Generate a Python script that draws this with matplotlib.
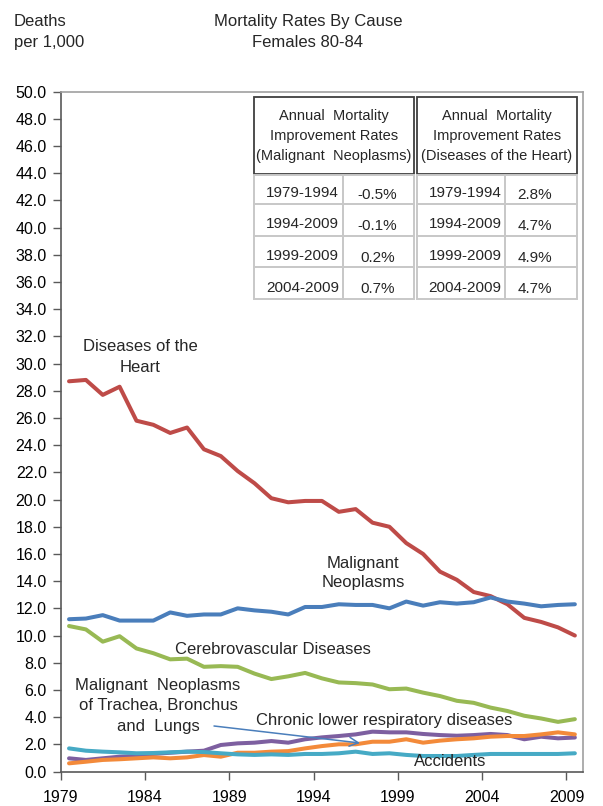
import matplotlib
matplotlib.use("Agg")
import matplotlib.pyplot as plt
from matplotlib.patches import Rectangle

# ---- data -------------------------------------------------------------
years = list(range(1979, 2010))

heart = [28.7, 28.8, 27.7, 28.3, 25.8, 25.5, 24.9, 25.3, 23.7, 23.2,
         22.1, 21.2, 20.1, 19.8, 19.9, 19.9, 19.1, 19.3, 18.3, 18.0,
         16.8, 16.0, 14.7, 14.1, 13.2, 12.9, 12.3, 11.3, 11.0, 10.6, 10.0]
malignant = [11.2, 11.25, 11.5, 11.1, 11.1, 11.1, 11.7, 11.45, 11.55, 11.55,
             12.0, 11.85, 11.75, 11.55, 12.1, 12.1, 12.3, 12.25, 12.25, 12.0,
             12.5, 12.2, 12.45, 12.35, 12.45, 12.8, 12.5, 12.35, 12.15, 12.25, 12.3]
cerebro = [10.7, 10.45, 9.55, 9.95, 9.05, 8.7, 8.25, 8.3, 7.7, 7.75,
           7.7, 7.2, 6.8, 7.0, 7.25, 6.85, 6.55, 6.5, 6.4, 6.05,
           6.1, 5.8, 5.55, 5.2, 5.05, 4.7, 4.45, 4.1, 3.9, 3.65, 3.85]
clrd = [0.97, 0.85, 0.97, 1.09, 1.14, 1.29, 1.38, 1.46, 1.53, 1.95,
        2.07, 2.12, 2.24, 2.12, 2.37, 2.51, 2.61, 2.73, 2.93, 2.88,
        2.88, 2.76, 2.68, 2.63, 2.68, 2.76, 2.68, 2.37, 2.56, 2.44, 2.5]
lung = [0.6, 0.72, 0.85, 0.9, 0.97, 1.04, 0.97, 1.04, 1.21, 1.09,
        1.38, 1.38, 1.46, 1.5, 1.7, 1.87, 2.0, 2.0, 2.19, 2.19,
        2.37, 2.12, 2.27, 2.37, 2.44, 2.56, 2.61, 2.61, 2.73, 2.88, 2.73]
accidents = [1.7, 1.53, 1.46, 1.41, 1.34, 1.36, 1.41, 1.46, 1.43, 1.34,
             1.26, 1.22, 1.26, 1.22, 1.29, 1.29, 1.34, 1.46, 1.29, 1.34,
             1.22, 1.14, 1.14, 1.14, 1.22, 1.29, 1.29, 1.29, 1.29, 1.29, 1.34]

series_names = ["Diseases of the Heart", "Malignant Neoplasms",
                "Cerebrovascular Diseases", "Chronic lower respiratory diseases",
                "Malignant Neoplasms of Trachea, Bronchus and Lungs", "Accidents"]
series_colors = ["#BE4B48", "#4A7EBB", "#98B954", "#7D5FA0", "#F38A3A", "#46AAC5"]

year_ticks = [1979, 1984, 1989, 1994, 1999, 2004, 2009]
y_ticks = [v * 2.0 for v in range(26)]

table_periods = ["1979-1994", "1994-2009", "1999-2009", "2004-2009"]
malig_rates = ["-0.5%", "-0.1%", "0.2%", "0.7%"]
heart_rates = ["2.8%", "4.7%", "4.9%", "4.7%"]
malig_header = "Annual  Mortality\nImprovement Rates\n(Malignant  Neoplasms)"
heart_header = "Annual  Mortality\nImprovement Rates\n(Diseases of the Heart)"

# ---- fonts ------------------------------------------------------------
plt.rcParams["font.family"] = ["Liberation Sans", "DejaVu Sans"]
TXT = "#262626"

W, H = 603, 806
fig = plt.figure(figsize=(W / 100, H / 100), dpi=100)


def fx(px):
    return px / W


def fy(py):
    return 1 - py / H


ax = fig.add_axes([fx(60.6), fy(771.5), fx(583.3) - fx(60.6), fy(91.7) - fy(771.5)])

all_series = [heart, malignant, cerebro, clrd, lung, accidents]
xpos = [y + 0.5 for y in years]
for vals, col in zip(all_series, series_colors):
    ax.plot(xpos, vals, color=col, lw=2.9, solid_joinstyle="round", solid_capstyle="round")

ax.set_xlim(1979, 2010)
ax.set_ylim(0, 50)
ax.set_xticks(year_ticks)
ax.set_xticklabels([str(y) for y in year_ticks])
ax.set_yticks(y_ticks)
ax.set_yticklabels([f"{v:.1f}" for v in y_ticks])
ax.tick_params(axis="both", colors="#595959", labelcolor="black",
               length=6, width=1.0, direction="out")
ax.tick_params(axis="x", labelsize=11.5, pad=7)
ax.tick_params(axis="y", labelsize=11.5, pad=4)
for side in ("left", "bottom"):
    ax.spines[side].set_color("#595959")
    ax.spines[side].set_linewidth(1.2)
for side in ("top", "right"):
    ax.spines[side].set_color("#A0A0A0")
    ax.spines[side].set_linewidth(1.2)

# series labels
lab = dict(fontsize=12, color=TXT, ha="center", va="center")
fig.text(fx(140), fy(357), "Diseases of the\nHeart", linespacing=1.5, **lab)
fig.text(fx(363), fy(573), "Malignant\nNeoplasms", linespacing=1.4, **lab)
fig.text(fx(273), fy(650), "Cerebrovascular Diseases", **lab)
fig.text(fx(158), fy(706), "Malignant  Neoplasms\nof Trachea, Bronchus\nand  Lungs", linespacing=1.45, **lab)
fig.text(fx(384), fy(720), "Chronic lower respiratory diseases", **lab)
fig.text(fx(450), fy(762), "Accidents", **lab)

# arrow from the lung-cancer label to its line
ax.annotate("", xy=fig.transFigure.transform((fx(360), fy(743))),
            xytext=fig.transFigure.transform((fx(214), fy(726))),
            xycoords="figure pixels", textcoords="figure pixels",
            arrowprops=dict(arrowstyle="->", color="#4A7EBB", lw=1.1,
                            mutation_scale=16, shrinkA=0, shrinkB=0))

# title and unit label
fig.text(fx(308), fy(32), "Mortality Rates By Cause\nFemales 80-84", fontsize=12,
         color=TXT, ha="center", va="center", linespacing=1.5)
fig.text(fx(14), fy(32), "Deaths\nper 1,000", fontsize=12, color=TXT,
         ha="left", va="center", linespacing=1.5)


# improvement-rate tables
def draw_table(x0, xdiv, x1, header, rates, per_dx, rate_dx):
    hdr_top, hdr_bot = 97.0, 173.5
    fig.add_artist(Rectangle((fx(x0), fy(hdr_bot)), fx(x1) - fx(x0), fy(hdr_top) - fy(hdr_bot),
                             transform=fig.transFigure, fill=False, ec="#3F3F3F", lw=1.3))
    fig.text(fx((x0 + x1) / 2), fy(136), header, fontsize=10.5, color=TXT,
             ha="center", va="center", linespacing=1.55)
    rows = [175, 204, 236, 267, 298.5]
    text_y = [194, 225.5, 257.5, 288.5]
    for i in range(4):
        for a, b in ((x0, xdiv), (xdiv, x1)):
            fig.add_artist(Rectangle((fx(a), fy(rows[i + 1])), fx(b) - fx(a),
                                     fy(rows[i]) - fy(rows[i + 1]), transform=fig.transFigure,
                                     fill=False, ec="#C8C8C8", lw=1.4))
        fig.text(fx((x0 + xdiv) / 2 + per_dx), fy(text_y[i] - 1), table_periods[i], fontsize=11,
                 color=TXT, ha="center", va="center")
        fig.text(fx((xdiv + x1) / 2 + rate_dx), fy(text_y[i] + 1), rates[i], fontsize=11,
                 color=TXT, ha="center", va="center")


draw_table(254.3, 343.0, 413.8, malig_header, malig_rates, 4, -1)
draw_table(417.3, 505.0, 576.7, heart_header, heart_rates, 4, -6)

fig.savefig("out.png", dpi=100, facecolor="white")
